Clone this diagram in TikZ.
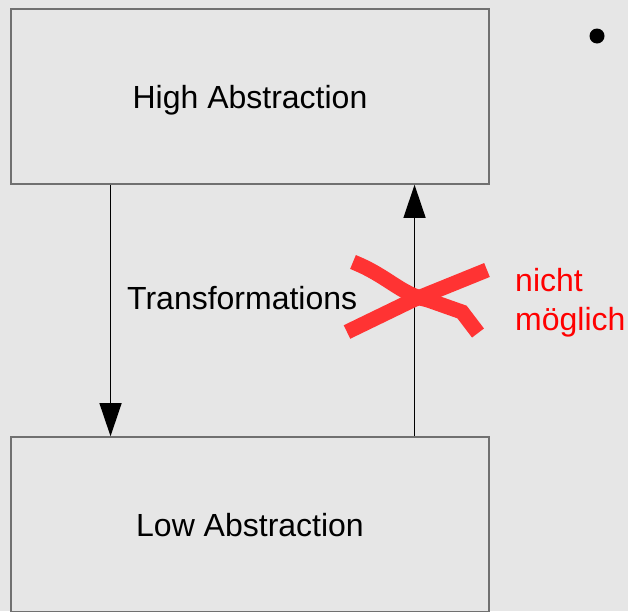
\documentclass[tikz,border=0pt]{standalone}
\usepackage{fontspec}
\setmainfont{Liberation Sans}
\usetikzlibrary{arrows.meta,calc}
\definecolor{bg}{RGB}{230,230,230}
\definecolor{frame}{RGB}{112,112,112}
\definecolor{cross}{RGB}{255,51,51}
\definecolor{note}{RGB}{255,0,0}
\begin{document}
\begin{tikzpicture}[x=1pt,y=-1pt,
  levelbox/.style={draw=frame,line width=1.6pt,fill=bg,minimum width=478pt,minimum height=175pt,inner sep=0pt},
  lbl/.style={font=\fontsize{32}{38}\selectfont,inner sep=0pt,anchor=base},
  flow/.style={line width=1.2pt,-{Triangle[width=22pt,length=33pt]}},
  strike/.style={draw=cross,line width=15pt,line join=miter}]
\useasboundingbox (0,0) rectangle (628,611);
\clip (0,0) rectangle (628,611);
\fill[bg] (0,0) rectangle (628,611);
% the two levels
\node[levelbox] (high) at (250,96.5) {};
\node[levelbox] (low) at (250,524.5) {};
\node[lbl] (hightxt) at (250,108.5) {High Abstraction};
\node[lbl] (lowtxt) at (250,536.5) {Low Abstraction};
% downward and upward transformations
\coordinate (dtop) at ($(high.south west)!0.2092!(high.south east)$);
\coordinate (dbot) at ($(low.north west)!0.2092!(low.north east)$);
\coordinate (ubot) at ($(low.north west)!0.8431!(low.north east)$);
\coordinate (utop) at ($(high.south west)!0.8431!(high.south east)$);
\draw[flow] (dtop) -- (dbot);
\draw[flow] (ubot) -- (utop);
\node[lbl,anchor=base west] (trans) at (127,309.5) {Transformations};
% crossed-out upward path
\draw[strike] (353,262) .. controls (388,276) and (400,294) .. (428,300) -- (462,312) -- (478,333);
\draw[strike] (347,332) -- (413,300) -- (487,270);
\node[lbl,anchor=base west,text=note] (nicht) at (515,291.5) {nicht};
\node[lbl,anchor=base west,text=note] (moeglich) at (515,330) {möglich};
% bullet
\fill[black] (597,36) circle (7.5pt);
\end{tikzpicture}
\end{document}
